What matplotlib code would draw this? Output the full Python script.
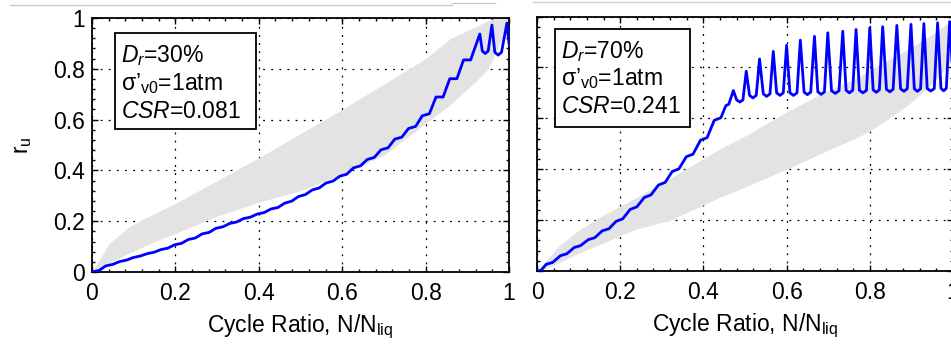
import matplotlib
matplotlib.use('Agg')
import matplotlib.pyplot as plt
from matplotlib.lines import Line2D
from matplotlib.patches import Rectangle
from matplotlib.ticker import MultipleLocator

plt.rcParams['font.family'] = ['Liberation Sans', 'DejaVu Sans']
plt.rcParams['mathtext.fontset'] = 'custom'
plt.rcParams['mathtext.rm'] = 'Liberation Sans'
plt.rcParams['mathtext.it'] = 'Liberation Sans:italic'
plt.rcParams['mathtext.bf'] = 'Liberation Sans:bold'

# ---- data ----
# Dr = 30 %, CSR = 0.081 (left panel)
dr30_x = [0, 0.017, 0.033, 0.050, 0.066, 0.083, 0.099, 0.116, 0.132, 0.149, 0.165, 0.182,
          0.198, 0.215, 0.231, 0.248, 0.264, 0.281, 0.297, 0.314, 0.330, 0.347, 0.363, 0.380,
          0.396, 0.413, 0.429, 0.446, 0.462, 0.479, 0.495, 0.512, 0.528, 0.545, 0.561, 0.578,
          0.594, 0.611, 0.627, 0.644, 0.660, 0.677, 0.693, 0.710, 0.726, 0.743, 0.759, 0.776,
          0.792, 0.809, 0.825, 0.842, 0.858, 0.875, 0.891, 0.908, 0.930, 0.936, 0.943, 0.950,
          0.959, 0.966, 0.974, 0.982, 0.995, 1.0]
dr30_ru = [0, 0.006, 0.024, 0.030, 0.041, 0.047, 0.057, 0.063, 0.072, 0.078, 0.088, 0.094,
           0.107, 0.113, 0.128, 0.134, 0.150, 0.156, 0.172, 0.178, 0.191, 0.197, 0.210, 0.216,
           0.228, 0.234, 0.248, 0.254, 0.271, 0.279, 0.297, 0.305, 0.323, 0.331, 0.350, 0.358,
           0.377, 0.385, 0.410, 0.418, 0.443, 0.451, 0.481, 0.489, 0.523, 0.531, 0.565, 0.573,
           0.615, 0.623, 0.689, 0.689, 0.761, 0.761, 0.835, 0.835, 0.937, 0.870, 0.860, 0.870,
           0.972, 0.865, 0.854, 0.865, 0.980, 0.900]
dr30_band_x = [0, 0.04, 0.09, 0.15, 0.2, 0.3, 0.4, 0.5, 0.6, 0.7, 0.8, 0.86, 0.9, 0.92, 0.95, 0.97, 0.98, 1.0]
dr30_band_hi = [0, 0.11, 0.18, 0.23, 0.27, 0.36, 0.45, 0.545, 0.64, 0.74, 0.84, 0.92, 0.95, 0.965, 0.99, 1.0, 1.0, 1.0]
dr30_band_lo = [0, 0.035, 0.075, 0.12, 0.152, 0.22, 0.275, 0.32, 0.385, 0.46, 0.585, 0.66, 0.72, 0.75, 0.80, 0.87, 0.91, 0.98]

# Dr = 70 %, CSR = 0.241 (right panel)
dr70_x = [0, 0.010, 0.022, 0.038, 0.056, 0.072, 0.089, 0.105, 0.123, 0.139, 0.157, 0.173,
          0.190, 0.206, 0.224, 0.240, 0.258, 0.274, 0.292, 0.308, 0.325, 0.341, 0.359, 0.375,
          0.393, 0.409, 0.426, 0.442, 0.454, 0.461, 0.472,
          0.480, 0.4875, 0.495, 0.503, 0.511, 0.519, 0.527, 0.535, 0.544, 0.552, 0.560, 0.568,
          0.576, 0.584, 0.592, 0.600, 0.608, 0.6165, 0.625, 0.633, 0.642, 0.650, 0.658, 0.667,
          0.675, 0.683, 0.691, 0.699, 0.708, 0.717, 0.726, 0.735, 0.743, 0.751, 0.759, 0.767,
          0.775, 0.7835, 0.792, 0.800, 0.808, 0.8155, 0.823, 0.831, 0.840, 0.848, 0.856, 0.865,
          0.874, 0.882, 0.890, 0.899, 0.907, 0.9145, 0.922, 0.930, 0.938, 0.9465, 0.955, 0.963,
          0.971, 0.9775, 0.984, 0.992, 1.0]
dr70_ru = [0, 0.003, 0.026, 0.034, 0.060, 0.068, 0.092, 0.100, 0.123, 0.131, 0.158, 0.166,
           0.195, 0.205, 0.242, 0.252, 0.289, 0.299, 0.338, 0.348, 0.391, 0.401, 0.449, 0.459,
           0.514, 0.524, 0.592, 0.602, 0.650, 0.655, 0.709,
           0.672, 0.664, 0.672, 0.785, 0.690, 0.680, 0.690, 0.833, 0.696, 0.686, 0.696, 0.863,
           0.700, 0.690, 0.700, 0.887, 0.700, 0.690, 0.700, 0.907, 0.703, 0.693, 0.703, 0.922,
           0.704, 0.694, 0.704, 0.936, 0.708, 0.698, 0.708, 0.942, 0.710, 0.700, 0.710, 0.949,
           0.710, 0.700, 0.710, 0.956, 0.712, 0.702, 0.712, 0.960, 0.714, 0.704, 0.714, 0.965,
           0.716, 0.706, 0.716, 0.969, 0.716, 0.706, 0.716, 0.972, 0.717, 0.707, 0.717, 0.975,
           0.718, 0.708, 0.718, 0.980, 0.760]
dr70_band_x = [0, 0.05, 0.1, 0.16, 0.2, 0.24, 0.32, 0.44, 0.5, 0.6, 0.7, 0.77, 0.8, 0.89, 0.95, 1.0]
dr70_band_hi = [0, 0.095, 0.16, 0.22, 0.255, 0.29, 0.365, 0.48, 0.53, 0.625, 0.71, 0.76, 0.79, 0.87, 0.93, 0.99]
dr70_band_lo = [0, 0.03, 0.07, 0.11, 0.14, 0.165, 0.20, 0.29, 0.33, 0.40, 0.475, 0.525, 0.55, 0.65, 0.735, 0.83]

xticks = [0, 0.2, 0.4, 0.6, 0.8, 1.0]
xticklabels = ['0', '0.2', '0.4', '0.6', '0.8', '1']
yticks = [0, 0.2, 0.4, 0.6, 0.8, 1.0]
yticklabels = ['0', '0.2', '0.4', '0.6', '0.8', '1']
box_dr30 = ['$D_r$=30%', 'σ’$_{\\rm v0}$=1atm', '$CSR$=0.081']
box_dr70 = ['$D_r$=70%', 'σ’$_{\\rm v0}$=1atm', '$CSR$=0.241']

FS = 16.5
BLUE = '#0000ff'
BAND = '#e3e3e3'

fig = plt.figure(figsize=(9.51, 3.47), dpi=100)
fig.patch.set_facecolor('white')

# faint border lines left over at the top of the image
fig.add_artist(Line2D([10/951, 452/951], [1 - 5/347, 1 - 5/347], color='#c8c8c8', lw=1))
fig.add_artist(Line2D([452/951, 495/951], [1 - 2.5/347, 1 - 2.5/347], color='#c8c8c8', lw=1))
fig.add_artist(Line2D([533/951, 1.0], [1 - 2/347, 1 - 2/347], color='#d0d0d0', lw=1))

ax1 = fig.add_axes([92/951, 75/347, 417/951, 254/347])
ax2 = fig.add_axes([537/951, 76/347, 416/951, 254.5/347])


def style_axes(ax, show_ylabels):
    ax.set_xlim(0, 1)
    ax.set_ylim(0, 1)
    ax.set_xticks(xticks)
    ax.set_xticklabels(xticklabels)
    ax.set_yticks(yticks)
    if show_ylabels:
        ax.set_yticklabels(yticklabels)
    ax.xaxis.set_minor_locator(MultipleLocator(0.04))
    ax.yaxis.set_minor_locator(MultipleLocator(0.04))
    ax.tick_params(which='both', direction='in', top=True, right=True, width=1.0, colors='black')
    ax.tick_params(which='major', length=4, labelsize=FS, pad=7)
    ax.tick_params(which='minor', length=2.5)
    ax.tick_params(axis='y', labelleft=show_ylabels, pad=5)
    for sp in ax.spines.values():
        sp.set_linewidth(1.3)
    ax.grid(which='major', color='black', linestyle=(0, (1.5, 5)), linewidth=0.9)
    ax.set_axisbelow(True)
    ax.set_xlabel('Cycle Ratio, N/N$_{\\rm liq}$', fontsize=FS, labelpad=6)


def text_box(ax, lines, x0, y0, x1, y1, tx, tys):
    ax.add_patch(Rectangle((x0, y0), x1 - x0, y1 - y0, transform=ax.transAxes,
                           facecolor='white', edgecolor='black', lw=1.3, zorder=5))
    for s, ty in zip(lines, tys):
        ax.text(tx, ty, s, transform=ax.transAxes, fontsize=FS, va='baseline', ha='left', zorder=6)


# left panel
ax1.fill_between(dr30_band_x, dr30_band_lo, dr30_band_hi, color=BAND, lw=0, zorder=1)
ax1.plot(dr30_x, dr30_ru, color=BLUE, lw=2.0, solid_joinstyle='round', zorder=3)
style_axes(ax1, True)
ax1.set_ylabel('r$_{\\rm u}$', fontsize=FS, labelpad=14)
text_box(ax1, box_dr30, 0.055, 0.563, 0.393, 0.941, 0.069, [0.828, 0.717, 0.606])

# right panel
ax2.fill_between(dr70_band_x, dr70_band_lo, dr70_band_hi, color=BAND, lw=0, zorder=1)
ax2.plot(dr70_x, dr70_ru, color=BLUE, lw=2.0, solid_joinstyle='round', zorder=3)
style_axes(ax2, False)
text_box(ax2, box_dr70, 0.043, 0.567, 0.368, 0.950, 0.057, [0.836, 0.731, 0.620])

fig.savefig('out.png', dpi=100, facecolor='white')
